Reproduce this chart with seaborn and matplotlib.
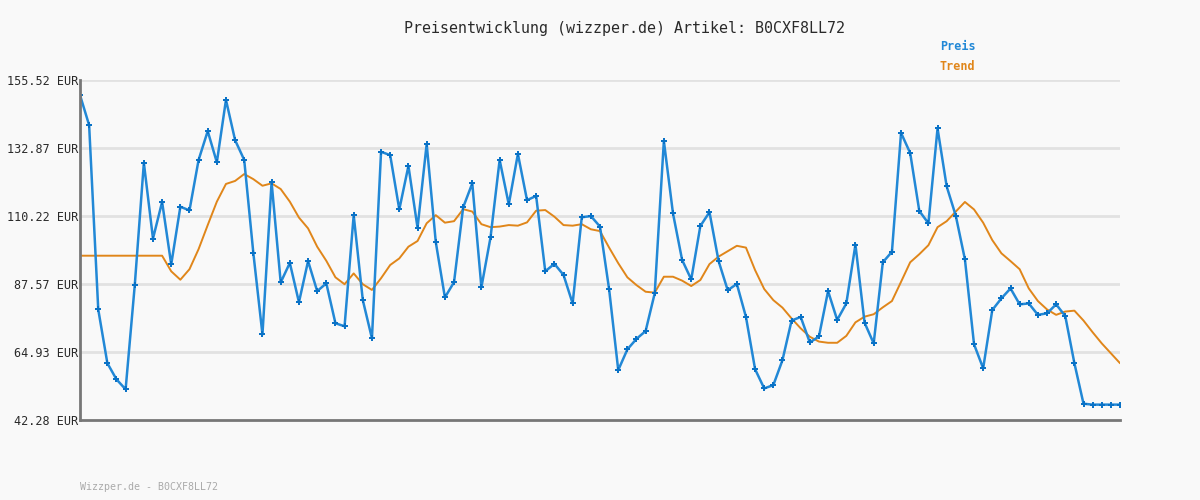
import matplotlib
matplotlib.use("Agg")
import matplotlib.pyplot as plt
import seaborn as sns
import numpy as np
import pandas as pd

title = "Preisentwicklung (wizzper.de) Artikel: B0CXF8LL72"
footer = "Wizzper.de - B0CXF8LL72"
y_ticks = [42.28, 64.93, 87.57, 110.22, 132.87, 155.52]
y_labels = ["42.28 EUR", "64.93 EUR", "87.57 EUR", "110.22 EUR", "132.87 EUR", "155.52 EUR"]

preis = [150.5, 140.5, 79.1, 61.2, 55.8, 52.5, 87.1, 127.9, 102.7, 114.9,
         94.1, 113.3, 112.1, 128.9, 138.5, 128.1, 148.9, 135.5, 128.9, 97.9,
         70.8, 121.5, 88.1, 94.6, 81.5, 95.2, 85.2, 87.8, 74.5, 73.5,
         110.5, 82.2, 69.5, 131.6, 130.5, 112.4, 126.9, 106.3, 134.2, 101.5,
         83.1, 88.2, 113.1, 121.1, 86.5, 103.1, 128.9, 114.1, 130.9, 115.5,
         116.9, 91.8, 94.3, 90.6, 81.1, 109.8, 110.2, 106.7, 85.8, 58.9,
         65.8, 69.3, 71.9, 84.5, 135.2, 111.1, 95.6, 89.1, 106.9, 111.5,
         95.2, 85.5, 87.6, 76.6, 59.2, 52.8, 53.9, 62.2, 75.4, 76.6,
         68.1, 70.1, 85.2, 75.6, 81.1, 100.7, 74.7, 67.8, 94.8, 98.3,
         137.9, 131.2, 111.9, 107.8, 139.4, 120.1, 110.3, 95.8, 67.5, 59.5,
         78.9, 82.8, 86.1, 80.8, 81.1, 77.3, 77.8, 80.8, 76.9, 61.2,
         47.7, 47.4, 47.4, 47.4, 47.4]

trend = [97.0, 97.0, 97.0, 97.0, 97.0, 97.0, 97.0, 97.0, 97.0, 97.0,
         91.8, 89.0, 92.5, 99.2, 107.2, 115.0, 120.9, 121.9, 124.2, 122.5,
         120.3, 121.1, 119.2, 115.0, 109.7, 106.1, 100.0, 95.3, 89.8, 87.5,
         91.1, 87.5, 85.6, 89.5, 93.9, 96.1, 100.0, 101.9, 107.8, 110.5,
         108.0, 108.5, 112.5, 111.7, 107.5, 106.5, 106.7, 107.2, 107.0, 108.1,
         112.0, 112.2, 110.0, 107.2, 107.0, 107.5, 105.8, 105.2, 99.7, 94.5,
         89.8, 87.2, 85.0, 84.7, 90.0, 90.0, 88.7, 86.9, 88.9, 94.2,
         96.7, 98.5, 100.3, 99.7, 92.2, 85.9, 82.2, 79.7, 76.1, 72.8,
         70.0, 68.4, 68.0, 68.0, 70.3, 74.8, 76.7, 77.5, 79.8, 81.9,
         88.3, 94.8, 97.5, 100.5, 106.5, 108.5, 111.7, 114.9, 112.4, 108.0,
         102.2, 97.8, 95.2, 92.5, 86.1, 81.9, 79.1, 77.3, 78.4, 78.7,
         75.4, 71.5, 67.8, 64.5, 61.2]

BLUE = "#2288d6"
ORANGE = "#e0861a"
BG = "#f9f9f9"

sns.set_theme(style="white")
plt.rcParams["font.family"] = ["DejaVu Sans Mono", "DejaVu Sans"]

df = pd.DataFrame({"idx": np.arange(len(preis)), "Preis": preis, "Trend": trend})

fig = plt.figure(figsize=(12, 5), dpi=100, facecolor=BG)
ax = fig.add_axes([80 / 1200, 1 - 420 / 500, 1040 / 1200, 340 / 500])
ax.set_facecolor(BG)

sns.lineplot(data=df, x="idx", y="Trend", ax=ax, color=ORANGE, linewidth=1.4, zorder=3)
sns.lineplot(data=df, x="idx", y="Preis", ax=ax, color=BLUE, linewidth=1.8, zorder=4,
             marker="P", markersize=3.8, markeredgewidth=0, markerfacecolor="#0a72c6")

ax.set_xlim(0, len(preis) - 1)
ax.set_ylim(y_ticks[0], y_ticks[-1])
ax.set_yticks(y_ticks)
ax.set_yticklabels(y_labels)
ax.set_xticks([])
ax.set_xlabel("")
ax.set_ylabel("")
ax.tick_params(axis="y", length=0, pad=1, labelsize=8.5, labelcolor="#2a2a2a")

for t in y_ticks[1:]:
    ax.axhline(t, color="#e2e2e2", linewidth=2, zorder=1)

for s in ["top", "right"]:
    ax.spines[s].set_visible(False)
for s in ["left", "bottom"]:
    ax.spines[s].set_color("#777777")
    ax.spines[s].set_linewidth(2)
ax.spines["left"].set_zorder(5)

fig.text(624 / 1200, 1 - 28 / 500, title, ha="center", va="center",
         fontsize=10.8, color="#2a2a2a")
fig.text(940 / 1200, 1 - 47 / 500, "Preis", ha="left", va="center",
         fontsize=8.5, color=BLUE, fontweight="bold")
fig.text(940 / 1200, 1 - 67 / 500, "Trend", ha="left", va="center",
         fontsize=8.5, color=ORANGE, fontweight="bold")
fig.text(80 / 1200, 1 - 487 / 500, footer, ha="left", va="center",
         fontsize=7.2, color="#aaaaaa")

fig.savefig("out.png", dpi=100, facecolor=BG)
